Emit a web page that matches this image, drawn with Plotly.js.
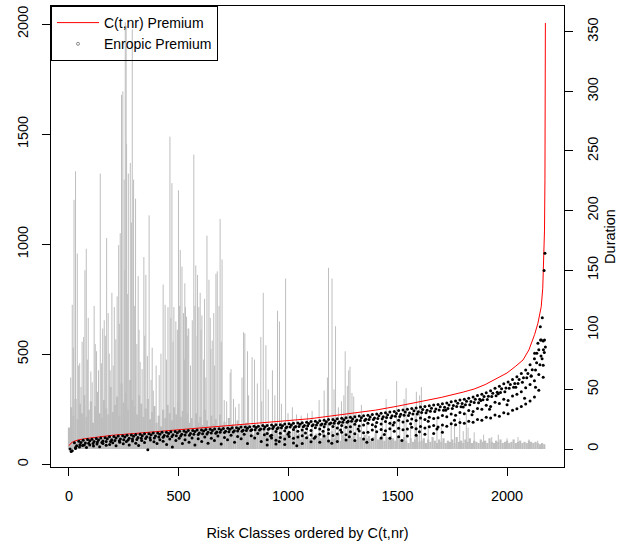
<!DOCTYPE html>
<html><head><meta charset="utf-8">
<script src="https://cdn.plot.ly/plotly-3.0.1.min.js"></script>
<style>html,body{margin:0;padding:0;background:#fff}#chart{width:621px;height:543px}</style>
</head><body><div id="chart"></div>
<script>
// ---------- Duration (right axis), grey vertical lines ----------
// background "grass": one value every 10 risk classes starting at class 0
const grassDur = [
 18,35,28,42,25,38,30,45,27,33, 40,22,36,48,30,26,41,34,29,52,
 31,37,44,28,55,39,47,33,58,41, 36,29,45,38,27,34,42,25,31,36,
 22,28,19,33,26,37,30,24,35,29, 40,27,32,25,30,22,
 26,18,30,22,27,20,33,24,19,28, 21,25,17,29,20,23,15,26,18,21,
 14,24,17,20,13,22,16,19,12,21, 15,18,11,20,14,17,12,19,13,16, 11,18,12,15,10,
 14,9,16,11,13,8,15,10,12,9, 17,8,13,11,9,14,10,12,8,15,
 9,11,13,7,12,10,8,14,9,11, 7,13,10,8,12,9,11,7,10,13, 8,9,12,7,10,8,11,9,7,10,
 8,6,10,7,5,9,6,8,11,6, 7,9,5,8,6,10,7,5,8,6, 9,5,7,6,8,5,10,6,7,5,
 8,6,9,5,7,6,5,8,6,7, 5,9,6,5,7,6,8,5,6,7, 5,6,8,5,6,7,5,6,5,7, 6,5,6,5,4,5,4
];
const grassStep = 10;
// individual spikes: risk class index and duration
const spikeIdx = [
 8,15,20,23,30,38,44,49,55,60, 67,73,79,84,88,100,106,115,120,126,
 135,143,148,154,161,166,172,179,184,188, 196,202,207,214,220,227,230,234,240,246,
 252,255,257,261,263,268,271,280,285,289, 295,300,304,310,316,320,325,334,342,346,
 351,358,366,375,380,385,398,412,420,430, 439,445,452,461,465,470,475,479,488,495,
 500,505,508,516,523,528,529,532,537,540, 544,547,555,563,570,575,579,585,587,593,
 599,603,607,615,619,625,630,639,645,648, 654,661,665,671,677,685,690,695,699,709,
 720,736,740,751,760,776,790,797,803,815, 820,836,847,860,876,880,887,899,910,929,
 940,952,961,970,989,1000,1020,1039,1060,1089, 1110,1142,1165,1180,1185,1201,1210,1217,1230,1244,
 1255,1261,1271,1277,1283,1292,1300,1310,1335,1360, 1400,1430,1448,1470,1496,1510,1530,1539,1560,1580,
 1586,1601,1609,1640,1680,1700,1745,1760,1784,1800, 1814,1822,1850,1893,1930,1960,2000,2050,2100,2140
];
const spikeDur = [
 60,121,85,209,233,164,70,72,52,90, 94,150,168,75,110,65,56,120,88,82,
 66,231,72,101,108,95,177,114,80,66, 131,70,119,92,128,171,105,181,297,300,
 226,150,358,355,256,130,231,240,190,352, 226,120,210,88,145,100,73,67,161,95,
 146,78,196,58,85,49,70,62,80,138, 121,75,119,262,110,223,90,119,107,100,
 217,120,167,153,114,75,139,119,111,95, 101,101,70,108,247,120,154,95,146,119,
 131,100,112,75,126,60,179,142,110,84, 91,114,70,147,149,120,193,90,159,41,
 40,64,67,42,35,38,60,98,97,82, 45,77,75,55,94,40,131,87,50,66,
 45,116,107,38,143,30,35,29,28,30, 32,41,49,60,152,143,50,103,35,40,
 45,82,53,66,69,47,44,30,37,25, 22,28,42,24,57,26,42,51,22,30,
 48,45,52,20,25,18,23,20,26,15, 30,18,14,12,10,12,9,10,8,7
];

// ---------- C(t,nr) premium (red line) ----------
const redIdx = [1,8,20,40,70,100,150,200,300,400,500,600,700,800,900,1000,1100,1200,1300,1400,
 1500,1600,1700,1800,1850,1900,1950,2000,2040,2073,2100,2126,2141,2156,2163,2167,2171,2173,2175];
const redVal = [85,95,103,110,116,120,126,132,140,148,156,164,172,180,188,196,207,220,232,246,
 264,284,304,328,342,362,388,415,446,474,520,590,641,716,800,915,1064,1292,2005];

// ---------- Entropic premium (black points) ----------
// main band, three rows; class index = start + 20*k
const bandTopStart = 5, bandMidStart = 15, bandLowStart = 10, bandStep = 20;
const entTop = [
 70,98,105,109,113,114,117,120,121,125, 126,129,130,132,133,135,136,139,139,142,
 142,145,145,148,149,150,151,153,153,156, 156,158,159,160,162,163,164,166,166,169,
 169,171,173,173,176,176,178,180,180,183, 184,186,188,189,191,194,195,198,200,203,
 204,207,209,211,214,216,219,220,223,226, 228,232,234,237,240,244,247,250,253,256,
 260,263,266,269,272,275,279,284,287,292, 296,300,306,312,318,325,334,346,355,366,
 374,385,398,412,428,452,480,520,560];
const entMid = [
 62,84,99,97,107,103,110,106,116,111, 119,115,124,118,127,122,130,125,134,128,
 137,131,140,134,143,137,146,140,149,142, 151,145,154,147,156,150,159,152,161,155,
 164,157,167,160,169,163,172,166,175,169, 178,172,182,176,185,180,189,183,193,188,
 197,192,202,196,206,201,211,205,215,210, 220,216,225,221,231,227,237,233,243,239,
 249,245,255,251,261,259,269,267,277,276, 286,285,296,296,308,309,323,327,343,347,
 363,367,385,393,413,429,461,492,533];
const entLow = [
 58,76,89,88,96,94,101,99,104,103, 108,107,112,110,115,113,118,117,121,120,
 124,123,127,126,130,129,133,132,136,135, 139,138,142,141,145,144,148,147,151,150,
 154,153,157,156,160,159,163,162,166,165, 169,168,172,171,175,175,179,179,183,183,
 187,187,191,191,195,195,199,199,203,203, 208,207,213,212,218,217,223,222,229,228,
 235,234,241,240,247,246,254,253,262,261, 271,270,281,280,293,294,308,311,326,330,
 346,350,367,373,393,402,428,452,508];
// secondary bands from class 905, step 20
const band2Start = 905, band2Step = 20;
const entBand2 = [
 140,132,149,141,152,145,158,150,156,162, 154,166,160,170,158,172,165,176,168,171,
 182,174,178,186,180,190,183,194,187,190, 200,192,198,206,199,210,203,214,208,212,
 222,216,228,223,235,230,244,240,254,250, 268,262,282,276,296,290,310,318,330,348,
 362,380,408,450];
const entBand3 = [
 112,120,109,122,115,126,118,124,130,121, 133,125,136,128,140,131,138,145,134,148,
 139,151,143,146,156,148,158,152,162,150, 164,157,160,168,161,172,165,170,176,169,
 178,173,184,180,190,186,196,191,204,200, 214,210,224,218,234,230,246,252,262,274,
 288,306,336,395];
// lowest band from class 905, step 40
const band4Start = 905, band4Step = 40;
const entBand4 = [88,92,90,97,95,102,100,106,104,110,108,115,113,120,118,125,128,132,136,140,146];
// scattered points below the main band
const scatLowX = [30,48,62,80,95,112,128,140,155,170,186,200,215,232,248,262,275,290,305,318,
 332,345,360,372,388,402,415,430,446,460,472,488,503,518,530,548,562,575,590,606,
 620,635,650,664,680,695,710,724,740,756,770,786,800,815,832,848,862,878,892];
const scatLowY = [72,78,85,76,88,83,92,80,95,86,90,98,84,100,93,104,88,106,96,85,
 108,99,66,110,102,94,112,105,90,115,78,108,118,95,112,100,120,88,116,104,
 124,96,118,108,128,92,122,112,132,100,126,116,136,95,130,120,140,104,134];
const scatMidX = [920,960,1000,1040,1080,1120,1160,1200,1240,1280,1320,1360,1400,1440,1480,1520,1560,1600,1640,1680];
const scatMidY = [128,104,136,84,142,118,150,96,156,125,160,100,172,135,178,108,184,148,195,160];
const scatRightX = [1720,1760,1800,1840,1880,1920,1960,2000,2040,2080,2110,2130];
const scatRightY = [245,200,260,225,290,250,320,270,350,300,400,350];
// points at the steep end
const tailX = [2126,2136,2141,2152,2153,2156,2161,2169,2173,2171,2166,2160];
const tailY = [505,505,550,625,565,565,666,880,959,565,520,480];

// ---------- build traces ----------
function stems(xs, ys) {
  const x = [], y = [];
  for (let i = 0; i < xs.length; i++) { x.push(xs[i], xs[i], null); y.push(0, ys[i], null); }
  return {x, y};
}
const grassIdx = grassDur.map((_, k) => k * grassStep);
const g = stems(grassIdx, grassDur);
const s = stems(spikeIdx, spikeDur);

const px = [], py = [];
function addRow(start, step, vals) { vals.forEach((v, k) => { px.push(start + step * k); py.push(v); }); }
function addPts(xs, ys) { xs.forEach((v, k) => { px.push(v); py.push(ys[k]); }); }
addRow(bandTopStart, bandStep, entTop);
addRow(bandMidStart, bandStep, entMid);
addRow(bandLowStart, bandStep, entLow);
addRow(band2Start, band2Step, entBand2);
addRow(band2Start, band2Step, entBand3);
addRow(band4Start, band4Step, entBand4);
addPts(scatLowX, scatLowY);
addPts(scatMidX, scatMidY);
addPts(scatRightX, scatRightY);
addPts(tailX, tailY);

const grey = '#bebebe';
const font = {family: 'Liberation Sans, Arial, sans-serif', size: 14.5, color: '#000'};
const legFont = {family: 'Liberation Sans, Arial, sans-serif', size: 14, color: '#000'};

const traces = [
  {x: g.x, y: g.y, xaxis: 'x', yaxis: 'y', mode: 'lines', line: {color: grey, width: 2.2}, showlegend: false, hoverinfo: 'skip'},
  {x: s.x, y: s.y, xaxis: 'x', yaxis: 'y', mode: 'lines', line: {color: grey, width: 1}, showlegend: false, hoverinfo: 'skip'},
  {x: redIdx, y: redVal, xaxis: 'x', yaxis: 'y2', mode: 'lines', line: {color: '#ff0000', width: 1}, name: 'C(t,nr) Premium'},
  {x: [null], y: [null], xaxis: 'x', yaxis: 'y2', mode: 'markers', marker: {symbol: 'circle-open', size: 3, color: '#888', line: {width: 1}}, name: 'Enropic Premium'},
  {x: px, y: py, xaxis: 'x', yaxis: 'y2', mode: 'markers', marker: {color: '#000', size: 3}, showlegend: false, hoverinfo: 'skip'}
];

const axisCommon = {ticks: 'outside', ticklen: 8, tickwidth: 1, tickcolor: '#000', showline: true, linecolor: '#000', linewidth: 1,
  showgrid: false, zeroline: false, tickfont: font};

const layout = {
  width: 621, height: 543,
  margin: {l: 51, r: 57, t: 6, b: 76},
  paper_bgcolor: '#fff', plot_bgcolor: '#fff',
  font: font, hovermode: false,
  showlegend: true,
  legend: {x: 0, y: 1, xanchor: 'left', yanchor: 'top', bgcolor: 'rgba(0,0,0,0)', bordercolor: '#000', borderwidth: 1,
    font: legFont, tracegroupgap: 0, itemwidth: 42},
  xaxis: Object.assign({}, axisCommon, {range: [-82, 2260], tickmode: 'array', tickvals: [0, 500, 1000, 1500, 2000], mirror: true,
    ticklabelstandoff: 8, title: {text: 'Risk Classes ordered by C(t,nr)', font: font, standoff: 24}}),
  yaxis: Object.assign({}, axisCommon, {side: 'right', range: [-15.1, 371.6], tickmode: 'array', tickvals: [0, 50, 100, 150, 200, 250, 300, 350],
    tickangle: -90, mirror: true, ticklabelstandoff: 8, title: {text: 'Duration', font: font, standoff: 4}}),
  yaxis2: Object.assign({}, axisCommon, {overlaying: 'y', side: 'left', range: [-12.3, 2082], tickmode: 'array', tickvals: [0, 500, 1000, 1500, 2000],
    tickangle: -90, ticklabelstandoff: 8})
};

Plotly.newPlot('chart', traces, layout, {displayModeBar: false, staticPlot: true});
</script>
</body></html>
